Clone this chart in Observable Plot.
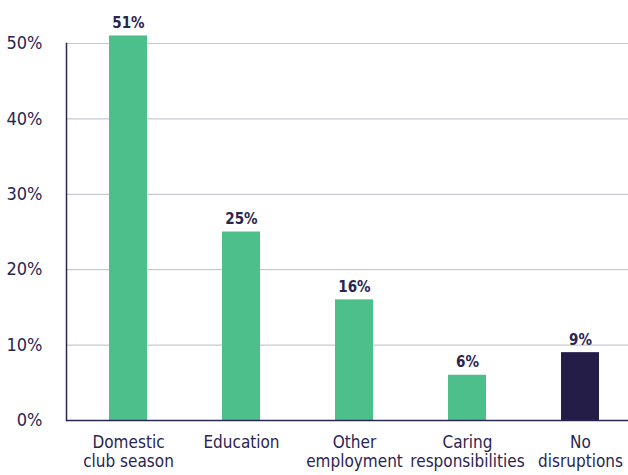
<!DOCTYPE html>
<html>
<head>
<meta charset="utf-8">
<script src="https://cdn.jsdelivr.net/npm/d3@7"></script>
<script src="https://cdn.jsdelivr.net/npm/@observablehq/plot@0.6"></script>
<style>
  body { margin: 0; background: #fff; }
  #chart svg { display: block; }
</style>
</head>
<body>
<div id="chart"></div>
<script>
const categories = ["Domestic\nclub season", "Education", "Other\nemployment", "Caring\nresponsibilities", "No\ndisruptions"];
const values = [51, 25, 16, 6, 9];
const groups = ["disrupted", "disrupted", "disrupted", "disrupted", "none"];
const yTicks = [0, 10, 20, 30, 40, 50];

const data = categories.map((c, i) => ({category: c, value: values[i], group: groups[i]}));
const ink = "#2a2551";
const font = "'DejaVu Sans Condensed', sans-serif";

const chart = Plot.plot({
  width: 628,
  height: 475,
  marginLeft: 66,
  marginRight: 0,
  marginTop: 43,
  marginBottom: 55,
  style: {fontFamily: font, fontSize: "17px", color: ink, background: "#fff"},
  x: {domain: categories, range: [70.4, 636.6], paddingInner: 0.664, paddingOuter: 0.332, label: null},
  y: {domain: [0, 50], label: null},
  color: {domain: ["disrupted", "none"], range: ["#4dbf8b", "#231d48"]},
  marks: [
    Plot.ruleY(yTicks.filter(d => d > 0), {stroke: "#c9c7d3", strokeWidth: 1.2}),
    Plot.barY(data, {x: "category", y: "value", fill: "group"}),
    Plot.ruleY([0], {stroke: ink, strokeWidth: 1.5}),
    Plot.frame({anchor: "left", stroke: ink, strokeWidth: 1.5}),
    Plot.axisY({ticks: yTicks, tickSize: 0, tickPadding: 24, tickFormat: d => d + "%", fontSize: 18, fill: ink}),
    Plot.axisX({tickSize: 0, tickPadding: 13, fontSize: 17, lineHeight: 1.16, fill: ink}),
    Plot.text(data, {x: "category", y: "value", text: d => d.value + "%", lineAnchor: "bottom", dy: -8, fontWeight: "bold", fontSize: 15, fill: ink})
  ]
});
document.getElementById("chart").appendChild(chart);
</script>
</body>
</html>
